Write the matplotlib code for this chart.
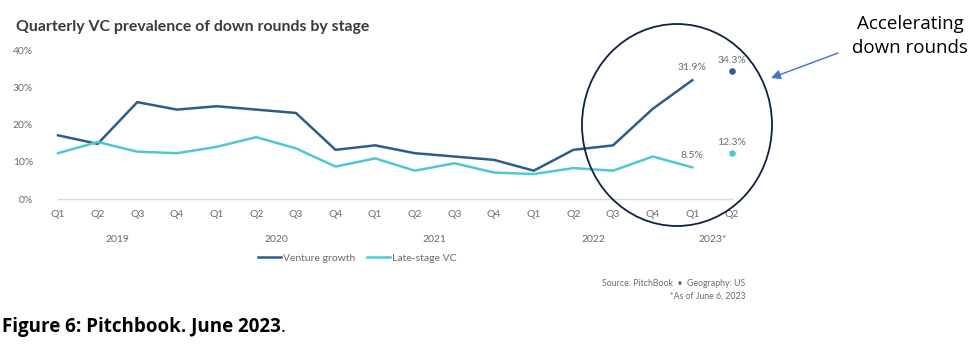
import matplotlib.pyplot as plt
from matplotlib.patches import Ellipse

plt.rcParams['font.family'] = ['Lato', 'DejaVu Sans']

quarters = ['Q1', 'Q2', 'Q3', 'Q4'] * 4 + ['Q1', 'Q2']
years = ['2019', '2020', '2021', '2022', '2023*']
quarters_per_year = [4, 4, 4, 4, 2]
venture_growth = [17.1, 14.8, 26.0, 24.0, 24.9, 24.0, 23.1, 13.2, 14.4,
                  12.3, 11.4, 10.5, 7.6, 13.2, 14.4, 24.2, 31.9]
late_stage = [12.3, 15.3, 12.7, 12.3, 14.0, 16.6, 13.6, 8.7, 10.9,
              7.6, 9.6, 7.1, 6.7, 8.3, 7.6, 11.4, 8.5]
vg_q2_2023 = 34.3
ls_q2_2023 = 12.3

dark = '#2d5d8c'
light = '#52c7d0'
grey = '#6b6b6b'

fig = plt.figure(figsize=(9.73, 3.5), dpi=100)
ax = fig.add_axes([58 / 973, 1 - 199 / 350, (732 - 58) / 973, 149 / 350])

x = list(range(len(venture_growth)))
ax.plot(x, venture_growth, color=dark, lw=1.8, label='Venture growth', clip_on=False)
ax.plot(x, late_stage, color=light, lw=1.8, label='Late-stage VC', clip_on=False)
ax.scatter([17], [vg_q2_2023], color=dark, s=14, zorder=3, clip_on=False)
ax.scatter([17], [ls_q2_2023], color=light, s=14, zorder=3, clip_on=False)

lab = dict(color=grey, fontsize=7.5, ha='center', textcoords='offset points')
ax.annotate(f'{venture_growth[-1]}%', (16, venture_growth[-1]), xytext=(0, 7), **lab)
ax.annotate(f'{late_stage[-1]}%', (16, late_stage[-1]), xytext=(0, 7), **lab)
ax.annotate(f'{vg_q2_2023}%', (17, vg_q2_2023), xytext=(0, 6), **lab)
ax.annotate(f'{ls_q2_2023}%', (17, ls_q2_2023), xytext=(0, 6), **lab)

ax.set_xlim(0, 17)
ax.set_ylim(0, 40)
ax.set_yticks([0, 10, 20, 30, 40])
ax.set_yticklabels(['0%', '10%', '20%', '30%', '40%'])
ax.set_xticks(range(18))
ax.set_xticklabels(quarters)
ax.tick_params(length=0, colors=grey, labelsize=7.5)
ax.tick_params(axis='y', pad=18)
ax.tick_params(axis='x', pad=8)
for s in ax.spines.values():
    s.set_visible(False)
ax.axhline(0, color='#d9d9d9', lw=1, zorder=0, clip_on=False)

start = 0
for yr, n in zip(years, quarters_per_year):
    ax.annotate(yr, (start + (n - 1) / 2, 0), xytext=(0, -29.5), textcoords='offset points',
                ha='center', va='center', color=grey, fontsize=7.5,
                annotation_clip=False)
    start += n

ax.legend(loc='center', bbox_to_anchor=(0.444, -0.396), ncol=2, frameon=False,
          fontsize=7.5, labelcolor=grey, handlelength=2.2, handletextpad=0.2,
          columnspacing=1.2, borderaxespad=0)

fig.text(16 / 973, 1 - 27 / 350, 'Quarterly VC prevalence of down rounds by stage',
         fontsize=11.4, fontweight='bold', color='#3a3a3a', va='center')
fig.text(745 / 973, 1 - 283 / 350, 'Source: PitchBook  \u2022  Geography: US',
         fontsize=6.3, color=grey, ha='right', va='center')
fig.text(745 / 973, 1 - 296 / 350, '*As of June 6, 2023',
         fontsize=6.3, color=grey, ha='right', va='center')

cap = fig.text(2 / 973, 1 - 327 / 350, 'Figure 6: Pitchbook. June 2023',
               fontsize=13.5, fontweight='bold', color='black', va='center',
               family=['Open Sans', 'DejaVu Sans'])
fig.canvas.draw()
bb = cap.get_window_extent()
fig.text(bb.x1 / fig.bbox.width, 1 - 327 / 350, '.', fontsize=13.5, color='black',
         va='center', family=['Open Sans', 'DejaVu Sans'])

# overlay in pixel coords for the hand-drawn annotation
ov = fig.add_axes([0, 0, 1, 1], facecolor='none')
ov.set_xlim(0, 973)
ov.set_ylim(350, 0)
ov.axis('off')
ov.add_patch(Ellipse((677, 125), 190, 202, fill=False, edgecolor='#0f2244', lw=1.3))
ov.annotate('', xy=(771, 78), xytext=(838, 53),
            arrowprops=dict(arrowstyle='-|>', color='#4472c4', lw=1,
                            mutation_scale=14, shrinkA=0, shrinkB=0))
ov.text(910, 36, 'Accelerating\ndown rounds', fontsize=13.5, ha='center', va='center',
        linespacing=1.4, family=['Open Sans', 'DejaVu Sans'])

fig.savefig('out.png', dpi=100)
